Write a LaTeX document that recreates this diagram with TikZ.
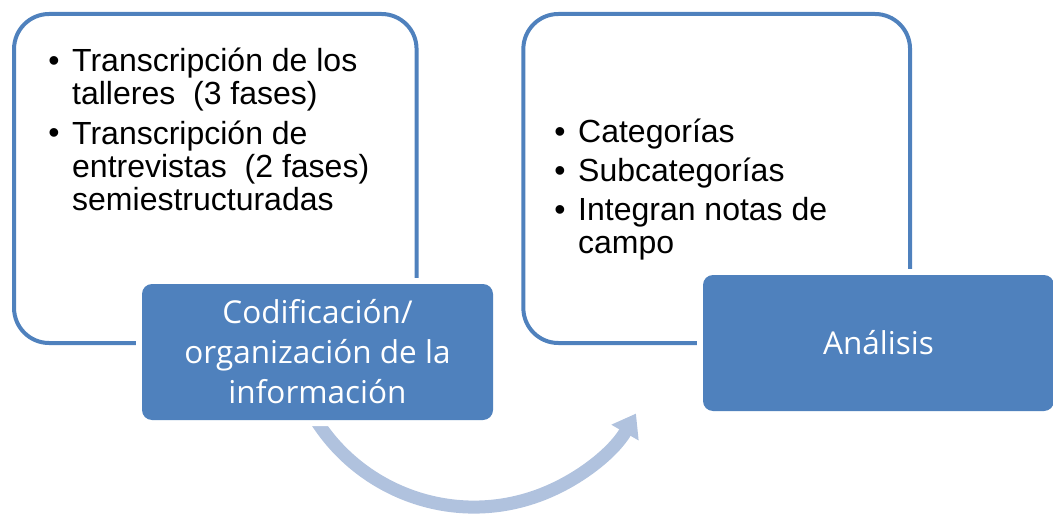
\documentclass[tikz,border=0pt]{standalone}
\usepackage{fontspec}
\setmainfont{Liberation Sans}
\newfontfamily\boxfont{Open Sans}
\usetikzlibrary{arrows.meta}
\definecolor{accent}{HTML}{4F81BD}
\definecolor{arrowc}{HTML}{B0C2DE}
\begin{document}
\begin{tikzpicture}[x=1pt,y=-1pt,
  outerbox/.style={draw=accent, line width=4pt, rounded corners=35pt, inner sep=0pt, minimum height=329pt},
  bluebox/.style={fill=accent, rounded corners=10pt, preaction={draw=white, line width=12pt}, minimum width=351pt, minimum height=136pt, inner sep=0pt, text=white, align=center, font=\boxfont\fontsize{31.5}{40}\selectfont},
  itemtext/.style={anchor=base west, align=left, inner sep=0pt, font=\fontsize{32}{33.3}\selectfont},
  bulletmark/.style={anchor=base, inner sep=0pt, font=\fontsize{32}{33}\selectfont},
  flowarrow/.style={draw=arrowc, line width=13pt, -{Triangle[width=30pt,length=22pt]}}]
\useasboundingbox (0,0) rectangle (1053,516);
% outer boxes
\node[outerbox, minimum width=402.5pt] (box1) at (215.3,178.5) {};
\node[outerbox, minimum width=386.7pt] (box2) at (716.7,178.5) {};
% items left (anchor at the baseline of the last line)
\node[bulletmark] (b1) at (54,72) {\textbullet};
\node[itemtext] (t1) at (72,105) {Transcripción de los\\talleres\ \ (3 fases)};
\node[bulletmark] (b2) at (54,144) {\textbullet};
\node[itemtext] (t2) at (72,211) {Transcripción de\\entrevistas\ \ (2 fases)\\semiestructuradas};
% items right
\node[bulletmark] (b3) at (560,143) {\textbullet};
\node[itemtext] (t3) at (578,143) {Categorías};
\node[bulletmark] (b4) at (560,182) {\textbullet};
\node[itemtext] (t4) at (578,182) {Subcategorías};
\node[bulletmark] (b5) at (560,221) {\textbullet};
\node[itemtext] (t5) at (578,254) {Integran notas de\\campo};
% arrow
\coordinate (arcS) at (298.3,384);
\draw[flowarrow] (arcS) arc[start angle=160, end angle=30, radius=187];
% blue boxes
\node[bluebox] (cod) at (317.5,352) {Codificación/\\organización de la\\información};
\node[bluebox] (ana) at (878.5,343) {Análisis};
\end{tikzpicture}
\end{document}
